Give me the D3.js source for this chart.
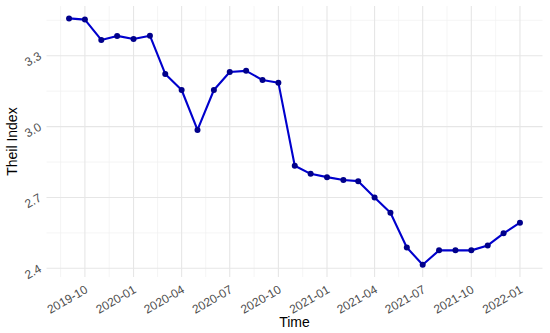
<!DOCTYPE html>
<html>
<head>
<meta charset="utf-8">
<script src="https://cdn.jsdelivr.net/npm/d3@7"></script>
<style>
html,body{margin:0;padding:0;background:#fff;}
svg{display:block;font-family:"Liberation Sans",Arial,sans-serif;}
</style>
</head>
<body>
<svg id="chart" width="550" height="333"></svg>
<script>
const months = ["2019-09","2019-10","2019-11","2019-12","2020-01","2020-02","2020-03","2020-04","2020-05","2020-06","2020-07","2020-08","2020-09","2020-10","2020-11","2020-12","2021-01","2021-02","2021-03","2021-04","2021-05","2021-06","2021-07","2021-08","2021-09","2021-10","2021-11","2021-12","2022-01"];
const theil = [3.458,3.453,3.367,3.384,3.371,3.385,3.223,3.155,2.986,3.155,3.231,3.236,3.197,3.186,2.834,2.800,2.786,2.774,2.769,2.700,2.635,2.488,2.415,2.476,2.476,2.476,2.497,2.548,2.593];
const yTicks = [2.4,2.7,3.0,3.3];
const yMinor = [2.55,2.85,3.15,3.45];
const xTitle = "Time";
const yTitle = "Theil Index";

(function(){
const parse = d3.utcParse("%Y-%m");
const data = months.map((m,i)=>({date:parse(m), v:theil[i]}));

const svg = d3.select("#chart");
const pL = 46.5, pR = 542.5, pT = 6.1, pB = 277.1;

const xExt = d3.extent(data,d=>d.date);
const xSpan = xExt[1]-xExt[0];
const x = d3.scaleUtc()
  .domain([new Date(+xExt[0]-0.05*xSpan), new Date(+xExt[1]+0.05*xSpan)])
  .range([pL,pR]);
const yExt = d3.extent(data,d=>d.v);
const ySpan = yExt[1]-yExt[0];
const y = d3.scaleLinear()
  .domain([yExt[0]-0.05*ySpan, yExt[1]+0.05*ySpan])
  .range([pB,pT]);

const xMajor = x.ticks(d3.utcMonth.every(3));
const xMinorT = [];
for(let i=0;i<xMajor.length-1;i++){
  xMinorT.push(new Date((+xMajor[i]+ +xMajor[i+1])/2));
}
const first = new Date(+xMajor[0] - ((+xMajor[1]-+xMajor[0])/2));
if(x(first)>=pL) xMinorT.unshift(first);
const lastGap = (+xMajor[xMajor.length-1]-+xMajor[xMajor.length-2])/2;
const last = new Date(+xMajor[xMajor.length-1] + lastGap);
if(x(last)<=pR) xMinorT.push(last);

const grid = svg.append("g");
grid.selectAll("line.ymin").data(yMinor).enter().append("line")
  .attr("x1",pL).attr("x2",pR).attr("y1",d=>y(d)).attr("y2",d=>y(d))
  .attr("stroke","#f0f0f0").attr("stroke-width",0.7);
grid.selectAll("line.xmin").data(xMinorT).enter().append("line")
  .attr("y1",pT).attr("y2",pB).attr("x1",d=>x(d)).attr("x2",d=>x(d))
  .attr("stroke","#f0f0f0").attr("stroke-width",0.7);
grid.selectAll("line.ymaj").data(yTicks).enter().append("line")
  .attr("x1",pL).attr("x2",pR).attr("y1",d=>y(d)).attr("y2",d=>y(d))
  .attr("stroke","#e6e6e6").attr("stroke-width",1.1);
grid.selectAll("line.xmaj").data(xMajor).enter().append("line")
  .attr("y1",pT).attr("y2",pB).attr("x1",d=>x(d)).attr("x2",d=>x(d))
  .attr("stroke","#e6e6e6").attr("stroke-width",1.1);

const line = d3.line().x(d=>x(d.date)).y(d=>y(d.v));
svg.append("path").datum(data).attr("d",line)
  .attr("fill","none").attr("stroke","#0000CD").attr("stroke-width",2.1)
  .attr("stroke-linejoin","round");
svg.selectAll("circle").data(data).enter().append("circle")
  .attr("cx",d=>x(d.date)).attr("cy",d=>y(d.v)).attr("r",3)
  .attr("fill","#00008B");

const fmtY = d3.format(".1f");
svg.selectAll("text.yl").data(yTicks).enter().append("text")
  .attr("transform",d=>`translate(33,${y(d)+3.5}) rotate(-30)`)
  .attr("text-anchor","middle").attr("dominant-baseline","central")
  .attr("font-size",12).attr("fill","#4d4d4d").text(d=>fmtY(d));

const fmtX = d3.utcFormat("%Y-%m");
svg.selectAll("text.xl").data(xMajor).enter().append("text")
  .attr("transform",d=>`translate(${x(d)-17.5},299.5) rotate(-30)`)
  .attr("text-anchor","middle").attr("dominant-baseline","central")
  .attr("font-size",12).attr("fill","#4d4d4d").text(d=>fmtX(d));

svg.append("text").attr("x",(pL+pR)/2).attr("y",326.5)
  .attr("text-anchor","middle").attr("font-size",14).attr("fill","#000").text(xTitle);
svg.append("text").attr("transform",`translate(17,${(pT+pB)/2}) rotate(-90)`)
  .attr("text-anchor","middle").attr("font-size",14).attr("fill","#000").text(yTitle);
})();
</script>
</body>
</html>
